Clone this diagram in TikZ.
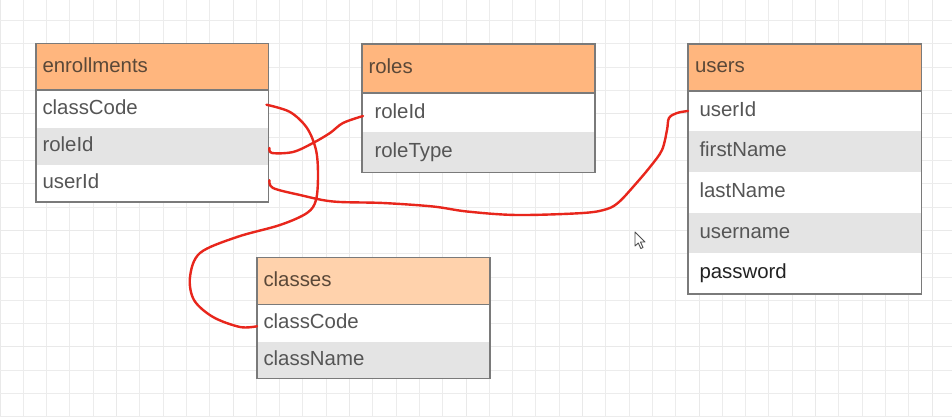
\documentclass[tikz,border=0pt]{standalone}
\usepackage{fontspec}
\setmainfont{Liberation Sans}
\usetikzlibrary{calc}
\definecolor{gridminor}{HTML}{ECECEC}
\definecolor{gridmajor}{HTML}{E9E9E9}
\definecolor{tblline}{HTML}{7A7A7A}
\definecolor{hdrfill}{HTML}{FFB67E}
\definecolor{hdrlight}{HTML}{FFD2AC}
\definecolor{rowgrey}{HTML}{E4E4E4}
\definecolor{hdrtext}{HTML}{5A4838}
\definecolor{fieldtext}{HTML}{555555}
\definecolor{darktext}{HTML}{222222}
\definecolor{linkred}{HTML}{E8261C}
\begin{document}
\begin{tikzpicture}[x=1pt,y=-1pt,
  cellbox/.style={anchor=north west, align=left, outer sep=0pt, inner ysep=0pt,
    text height=15pt, text depth=4pt, font=\fontsize{20.4}{24}\selectfont, text=fieldtext},
  hdrbox/.style={cellbox, draw=tblline, line width=1.2pt, fill=hdrfill, text=hdrtext},
  whiterow/.style={cellbox, fill=white},
  greyrow/.style={cellbox, fill=rowgrey},
  tblframe/.style={draw=tblline, line width=1.4pt},
  linkline/.style={draw=linkred, line width=2.4pt, line cap=round, line join=round},
  gridthin/.style={draw=gridminor, line width=1pt},
  gridbold/.style={draw=gridmajor, line width=1pt}]
\useasboundingbox (0,0) rectangle (952,417);
\fill[white] (0,0) rectangle (952,417);
% grid
\begin{scope}
\clip (0,0) rectangle (952,417);
\foreach \k in {0,...,40} {
  \pgfmathtruncatemacro{\m}{mod(\k,5)}
  \ifnum\m=0 \draw[gridbold] (23.3*\k,0) -- (23.3*\k,417);
  \else \draw[gridthin] (23.3*\k,0) -- (23.3*\k,417); \fi
}
\foreach \k in {0,...,17} {
  \pgfmathtruncatemacro{\m}{mod(\k,5)}
  \ifnum\m=4 \draw[gridbold] (0,20.7+23.3*\k) -- (952,20.7+23.3*\k);
  \else \draw[gridthin] (0,20.7+23.3*\k) -- (952,20.7+23.3*\k); \fi
}
\end{scope}

% enrollments
\node[whiterow, text width=219.5pt, inner xsep=6.5pt, minimum height=37.5pt] (enr1) at (36,90) {classCode};
\node[greyrow, text width=219.5pt, inner xsep=6.5pt, minimum height=37pt] (enr2) at (enr1.south west) {roleId};
\node[whiterow, text width=219.5pt, inner xsep=6.5pt, minimum height=37.5pt] (enr3) at (enr2.south west) {userId};
\draw[tblframe] (36,43.5) rectangle (enr3.south east);
\node[hdrbox, text width=219.5pt, inner xsep=6.5pt, minimum height=46.5pt] (enrh) at (36,43.5) {enrollments};

% roles
\node[whiterow, text width=208pt, inner xsep=12.5pt, minimum height=39pt] (rol1) at (362,93) {roleId};
\node[greyrow, text width=208pt, inner xsep=12.5pt, minimum height=40.5pt] (rol2) at (rol1.south west) {roleType};
\draw[tblframe] (362,44) rectangle (rol2.south east);
\node[hdrbox, text width=220pt, inner xsep=6.5pt, minimum height=49pt] (rolh) at (362,44) {roles};

% users
\node[whiterow, text width=210.5pt, inner xsep=11.5pt, minimum height=40pt] (usr1) at (688,91) {userId};
\node[greyrow, text width=210.5pt, inner xsep=11.5pt, minimum height=40.5pt] (usr2) at (usr1.south west) {firstName};
\node[whiterow, text width=210.5pt, inner xsep=11.5pt, minimum height=41pt] (usr3) at (usr2.south west) {lastName};
\node[greyrow, text width=210.5pt, inner xsep=11.5pt, minimum height=40pt] (usr4) at (usr3.south west) {username};
\node[whiterow, text width=210.5pt, inner xsep=11.5pt, minimum height=41.5pt, text=darktext] (usr5) at (usr4.south west) {password};
\draw[tblframe] (688,44) rectangle (usr5.south east);
\node[hdrbox, text width=219.5pt, inner xsep=7pt, minimum height=47pt] (usrh) at (688,44) {users};

% classes
\node[whiterow, text width=220pt, inner xsep=6.5pt, minimum height=37.5pt] (cls1) at (257,304.5) {classCode};
\node[greyrow, text width=220pt, inner xsep=6.5pt, minimum height=36.5pt] (cls2) at (cls1.south west) {className};
\draw[tblframe] (257,257.5) rectangle (cls2.south east);
\node[hdrbox, fill=hdrlight, text width=220pt, inner xsep=6.5pt, minimum height=47pt] (clsh) at (257,257.5) {classes};

% connectors
\draw[linkline] plot[smooth, tension=0.55] coordinates {
  ($(enr1.east)+(-2,-4)$) (290,112) (307,128) (316,150) (318,175) (316,200)
  (307,213) (280,225) (237,237) (200,253) (190,277) (194,300) (213,317)
  (240,327) ($(cls1.west)+(0,3)$)};
\draw[linkline] plot[smooth, tension=0.55] coordinates {
  ($(enr2.east)+(1,2)$) (272,153) (293,152) (313,143) (330,133) (343,123)
  ($(rol1.west)+(1,3.5)$)};
\draw[linkline] plot[smooth, tension=0.55] coordinates {
  ($(enr3.east)+(1,-3)$) (273,188) (300,195) (333,201.5) (383,203) (433,206.5)
  (467,211.5) (517,215) (583,213) (607,209) (619,202) (633,187) (650,167)
  (662,150) (667,130) (669,118) (677,113) (usr1.west)};

% mouse cursor
\draw[fill=white, draw=gray!60!black, line width=0.9pt, line join=round]
  (635,232) -- (635,246) -- (638.3,243) -- (640.8,248.5) -- (643,247.5)
  -- (640.5,242) -- (645,242) -- cycle;
\end{tikzpicture}
\end{document}
